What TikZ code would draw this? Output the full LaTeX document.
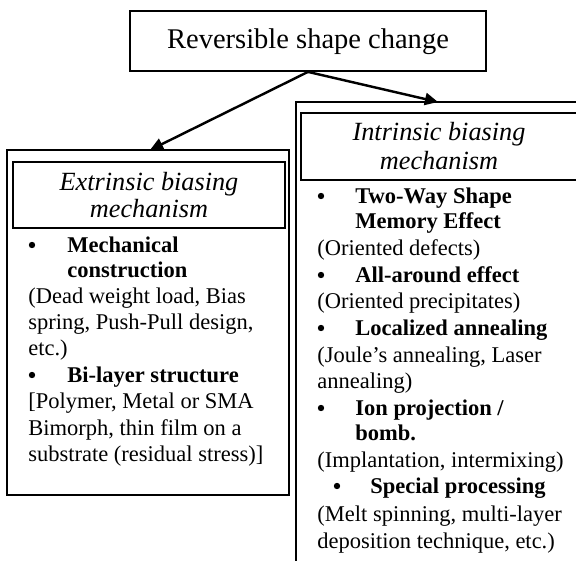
\documentclass[tikz,border=0pt]{standalone}
\usepackage{fontspec}
\setmainfont{Liberation Serif}
\usetikzlibrary{arrows.meta,fit}
\begin{document}
\begin{tikzpicture}[x=0.5333pt,y=-0.5333pt,
  txt/.style={inner sep=0pt, anchor=base west, font=\fontsize{12}{14}\selectfont},
  btxt/.style={inner sep=0pt, anchor=base west, font=\fontsize{12}{14}\selectfont\bfseries},
  bul/.style={circle, fill, inner sep=0pt, minimum size=3.4pt},
  head/.style={inner sep=0pt, anchor=base, font=\fontsize{14}{16}\selectfont\itshape},
  titlebox/.style={draw, line width=0.95pt, inner sep=0pt},
  outerbox/.style={draw, line width=1.1pt, inner sep=0pt},
  innerbox/.style={draw, line width=0.6pt, inner sep=0pt},
  arr/.style={line width=1.3pt, -{Triangle[length=7pt,width=6.5pt]}}]
\useasboundingbox (0,0) rectangle (576,560);
\clip (0,0) rectangle (576,560);
% top box
\node[titlebox, fit={(130,11) (486,71)}] (top) {};
\node[anchor=base, inner sep=0pt, font=\fontsize{15.2}{18}\selectfont] (title) at (308,48) {Reversible shape change};
% left box
\node[outerbox, fit={(7,150) (289,495)}] (ext) {};
\node[innerbox, fit={(13,162) (285,228)}] (exthead) {};
\node[head] (e1) at (149,190) {Extrinsic biasing};
\node[head] (e2) at (149,217) {mechanism};
\node[bul] (eb1) at (32,245) {};
\node[btxt] (e3) at (67,252) {Mechanical};
\node[btxt] (e4) at (67,277) {construction};
\node[txt] (e5) at (28,303) {(Dead weight load, Bias};
\node[txt] (e6) at (28,329) {spring, Push-Pull design,};
\node[txt] (e7) at (28,355) {etc.)};
\node[bul] (eb2) at (32,375) {};
\node[btxt] (e8) at (67,382) {Bi-layer structure};
\node[txt] (e9) at (28,408) {[Polymer, Metal or SMA};
\node[txt] (e10) at (28,435) {Bimorph, thin film on a};
\node[txt] (e11) at (28,461) {substrate (residual stress)]};
% right box
\node[outerbox, fit={(296,102) (585,580)}] (int) {};
\node[innerbox, fit={(301,113) (580,180)}] (inthead) {};
\node[head] (i1) at (439,140) {Intrinsic biasing};
\node[head] (i2) at (439,169) {mechanism};
\node[bul] (ib1) at (321,196) {};
\node[btxt] (i3) at (355,203) {Two-Way Shape};
\node[btxt] (i4) at (355,228) {Memory Effect};
\node[txt] (i5) at (317,255) {(Oriented defects)};
\node[bul] (ib2) at (321,275) {};
\node[btxt] (i6) at (355,282) {All-around effect};
\node[txt] (i7) at (317,308) {(Oriented precipitates)};
\node[bul] (ib3) at (321,328) {};
\node[btxt] (i8) at (355,335) {Localized annealing};
\node[txt] (i9) at (317,362) {(Joule’s annealing, Laser};
\node[txt] (i10) at (317,388) {annealing)};
\node[bul] (ib4) at (321,408) {};
\node[btxt] (i11) at (355,415) {Ion projection /};
\node[btxt] (i12) at (355,440) {bomb.};
\node[txt] (i13) at (317,467) {(Implantation, intermixing)};
\node[bul] (ib5) at (337,486) {};
\node[btxt] (i14) at (370,493) {Special processing};
\node[txt] (i15) at (317,521) {(Melt spinning, multi-layer};
\node[txt] (i16) at (317,548) {deposition technique, etc.)};
% connectors
\coordinate (extIn) at (150,150);
\coordinate (intIn) at (438,102);
\draw[arr] (top.south) -- (extIn);
\draw[arr] (top.south) -- (intIn);
\end{tikzpicture}
\end{document}
